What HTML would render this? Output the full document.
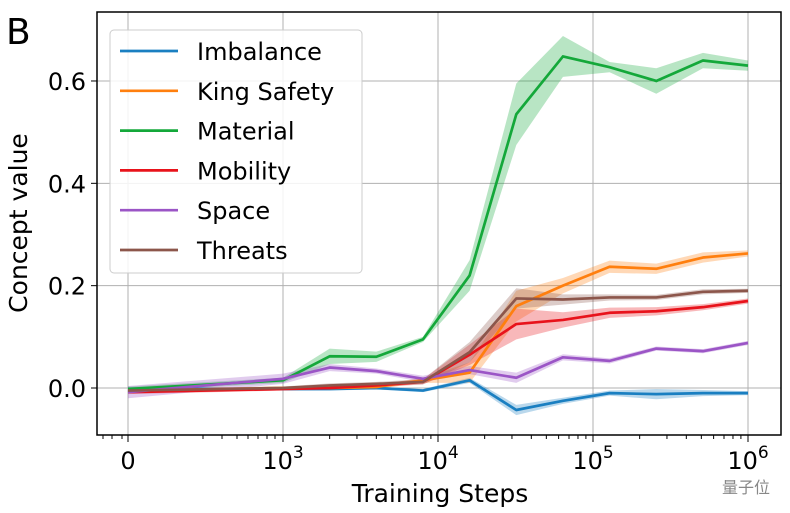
<!DOCTYPE html>
<html><head><meta charset="utf-8"><style>
body{margin:0;background:#fff;}
svg{display:block;font-family:"DejaVu Sans","Liberation Sans","Noto Sans CJK SC",sans-serif;}
</style></head><body>
<svg id="chart" width="790" height="513" viewBox="0 0 790 513">
<rect width="790" height="513" fill="#fff"/>
<text x="6" y="44" font-size="36">B</text>
<g id="grid"></g>
<g id="bands"></g>
<g id="lines"></g>
<rect x="97" y="12" width="684" height="423" fill="none" stroke="#000" stroke-width="1.5"/>
<g id="axes"></g>
<text transform="translate(27,223) rotate(-90)" text-anchor="middle" font-size="25">Concept value</text>
<text x="440" y="502" text-anchor="middle" font-size="25">Training Steps</text>
<g>
<rect x="110" y="30" width="252" height="243" rx="4" fill="#fff" fill-opacity="0.85" stroke="#ccc"/>
<g id="legend"></g>
</g>
<text x="770" y="493" text-anchor="end" font-size="16" fill="#888" font-family="'Noto Sans CJK SC',sans-serif">量子位</text>
</svg>
<script>
const steps=[0,1000,2000,4000,8000,16000,32000,64000,128000,256000,512000,1000000];
const names=["Imbalance","King Safety","Material","Mobility","Space","Threats"];
const colors=["#1a7fc1","#ff7f0e","#14a83a","#e8131b","#9b55c6","#8c564b"];
const imbalance=[-0.002,-0.002,-0.002,0.0,-0.005,0.015,-0.043,-0.025,-0.01,-0.012,-0.01,-0.01];
const kingSafety=[-0.005,0,0.0,0.002,0.015,0.03,0.16,0.2,0.237,0.233,0.255,0.263];
const material=[-0.002,0.015,0.062,0.061,0.095,0.22,0.535,0.648,0.627,0.60,0.64,0.63];
const mobility=[-0.008,-0.002,0.0,0.005,0.012,0.065,0.125,0.133,0.147,0.15,0.158,0.17];
const space=[-0.008,0.018,0.04,0.033,0.018,0.035,0.02,0.06,0.053,0.077,0.072,0.088];
const threats=[-0.005,0.0,0.005,0.008,0.012,0.07,0.175,0.173,0.177,0.177,0.188,0.19];
const imbalanceErr=[0.004,0.003,0.003,0.003,0.003,0.005,0.01,0.006,0.005,0.01,0.006,0.004];
const kingSafetyErr=[0.004,0.003,0.004,0.004,0.005,0.02,0.03,0.015,0.012,0.01,0.01,0.006];
const materialErr=[0.005,0.005,0.015,0.01,0.005,0.03,0.06,0.04,0.01,0.025,0.015,0.01];
const mobilityErr=[0.004,0.003,0.004,0.004,0.005,0.02,0.03,0.015,0.01,0.008,0.006,0.005];
const spaceErr=[0.012,0.01,0.007,0.005,0.006,0.008,0.01,0.006,0.005,0.004,0.004,0.004];
const threatsErr=[0.004,0.003,0.004,0.004,0.005,0.02,0.02,0.01,0.006,0.005,0.005,0.004];
const yTicks=[0.0,0.2,0.4,0.6];
const yTickLabels=["0.0","0.2","0.4","0.6"];
const xTicks=[0,1000,10000,100000,1000000];
const xTickExp=["","3","4","5","6"];
const series=[imbalance,kingSafety,material,mobility,space,threats];
const errs=[imbalanceErr,kingSafetyErr,materialErr,mobilityErr,spaceErr,threatsErr];
const NS="http://www.w3.org/2000/svg";
function X(s){return s<=1000?128+155*s/1000:283+155*Math.log10(s/1000);}
function Y(v){return 388-511.7*v;}
function mk(tag,attrs,parent){const e=document.createElementNS(NS,tag);for(const k in attrs)e.setAttribute(k,attrs[k]);parent.appendChild(e);return e;}
const grid=document.getElementById('grid'),axes=document.getElementById('axes');
yTicks.forEach((t,i)=>{
 const l=mk('line',{x1:97,x2:781,y1:Y(t),y2:Y(t),stroke:'#b0b0b0','stroke-width':1},grid);
 
 
 mk('line',{x1:91,x2:97,y1:Y(t),y2:Y(t),stroke:'#000'},axes);
 const tx=mk('text',{x:86,y:Y(t)+9,'text-anchor':'end','font-size':24},axes);tx.textContent=yTickLabels[i];
 
 
});
xTicks.forEach((t,i)=>{
 const x=X(t);
 const l=mk('line',{x1:x,x2:x,y1:12,y2:435,stroke:'#b0b0b0','stroke-width':1},grid);
 
 
 mk('line',{x1:x,x2:x,y1:435,y2:442,stroke:'#000'},axes);
 const tx=mk('text',{x:x,y:469,'text-anchor':'middle','font-size':24},axes);
 
 
 if(i===0)tx.textContent='0';else{tx.textContent='10';const s=mk('tspan',{dy:-11,'font-size':17},tx);s.textContent=xTickExp[i];}
});
[103,112,122,175,203,222,237,248,258,267,275].forEach(x=>mk('line',{x1:x,x2:x,y1:435,y2:439,stroke:'#000'},axes));
for(let d=1000;d<1000000;d*=10)for(let m=2;m<10;m++){const x=X(d*m);mk('line',{x1:x,x2:x,y1:435,y2:439,stroke:'#000'},axes);}
const bands=document.getElementById('bands'),lines=document.getElementById('lines');
series.forEach((s,k)=>{
 const up=s.map((v,i)=>X(steps[i])+','+Y(v+errs[k][i]));
 const dn=s.map((v,i)=>X(steps[i])+','+Y(v-errs[k][i])).reverse();
 const b=mk('polygon',{points:up.concat(dn).join(' '),fill:colors[k],'fill-opacity':0.3},bands);
 
 
 const p=mk('polyline',{points:s.map((v,i)=>X(steps[i])+','+Y(v)).join(' '),fill:'none',stroke:colors[k],'stroke-width':2.7,'stroke-linejoin':'round'},lines);
 
 
});
const lg=document.getElementById('legend');
names.forEach((n,k)=>{
 const y=51+39.8*k;
 const g=mk('g',{},lg);
 
 
 mk('line',{x1:120,x2:178,y1:y,y2:y,stroke:colors[k],'stroke-width':2.7},g);
 const t=mk('text',{x:197,y:y+9,'font-size':24},g);t.textContent=n;
});
</script>
</body></html>
